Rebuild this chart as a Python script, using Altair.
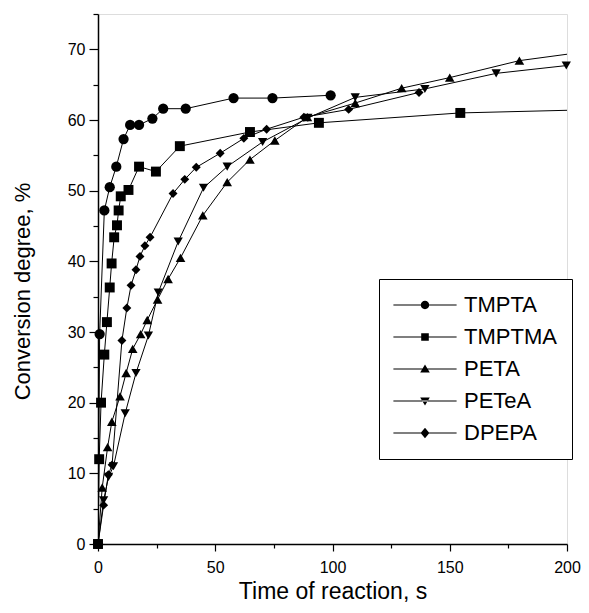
import altair as alt
import pandas as pd

series_names = ["TMPTA", "TMPTMA", "PETA", "PETeA", "DPEPA"]

tmpta_t = [0, 0.7, 2.7, 5.0, 7.8, 10.9, 13.7, 17.5, 23.2, 27.8, 37.4, 57.8, 74.4, 99.2]
tmpta_c = [0, 29.7, 47.2, 50.5, 53.4, 57.3, 59.3, 59.3, 60.2, 61.6, 61.6, 63.1, 63.1, 63.5]

tmptma_t = [0, 0.5, 1.3, 2.7, 3.8, 5.0, 5.8, 6.9, 8.1, 8.8, 9.7, 13.0, 17.5, 24.7, 34.9, 64.8, 94.2, 154.5, 240]
tmptma_c = [0, 12.0, 20.0, 26.8, 31.4, 36.3, 39.7, 43.4, 45.1, 47.2, 49.2, 50.1, 53.4, 52.7, 56.3, 58.3, 59.6, 61.0, 61.7]

peta_t = [0, 1.8, 4.1, 5.9, 9.4, 12.0, 14.8, 18.2, 21.0, 25.4, 29.9, 35.2, 44.7, 55.1, 64.8, 75.4, 89.3, 109.7, 129.5, 150.0, 179.7, 220]
peta_c = [0, 8.0, 13.7, 17.3, 20.9, 24.2, 27.6, 29.7, 31.7, 34.6, 37.5, 40.5, 46.5, 51.2, 54.4, 57.1, 60.4, 62.4, 64.5, 66.0, 68.4, 70.2]

petea_t = [0, 2.4, 4.5, 6.6, 11.6, 16.2, 21.5, 25.7, 34.2, 45.0, 55.1, 70.2, 89.5, 109.7, 139.4, 169.8, 199.7]
petea_c = [0, 6.2, 9.5, 11.0, 18.5, 24.2, 29.5, 35.6, 42.8, 50.4, 53.4, 56.9, 60.3, 63.2, 64.4, 66.6, 67.7]

dpepa_t = [0, 2.4, 4.4, 6.0, 10.2, 12.3, 14.1, 16.2, 17.9, 20.0, 22.2, 32.0, 37.0, 41.9, 52.1, 62.2, 71.9, 87.8, 106.9, 136.9]
dpepa_c = [0, 5.5, 9.8, 11.2, 28.8, 33.4, 36.6, 38.8, 40.7, 42.2, 43.4, 49.6, 51.6, 53.3, 55.3, 57.4, 58.7, 60.4, 61.5, 63.9]

x_major = [0, 50, 100, 150, 200]
x_minor = [25, 75, 125, 175]
y_major = [0, 10, 20, 30, 40, 50, 60, 70]
y_minor = [5, 15, 25, 35, 45, 55, 65, 75]

plot_shapes = ["circle", "square", "triangle-up", "triangle-down", "diamond"]
plot_sizes = [105, 80, 135, 135, 115]
LINE = "M-7.9,-0.13H7.9V0.13H-7.9Z"
legend_shapes = [
    LINE + "M1.05,0A1.05,1.05 0 1,1 -1.05,0A1.05,1.05 0 1,1 1.05,0Z",
    LINE + "M-0.95,-0.95H0.95V0.95H-0.95Z",
    LINE + "M0,-1.15L1.2,0.9H-1.2Z",
    LINE + "M0,1.15L1.2,-0.9H-1.2Z",
    LINE + "M0,-1.3L1.1,0L0,1.3L-1.1,0Z",
]

rows = []
for name, ts, cs in [("TMPTA", tmpta_t, tmpta_c), ("TMPTMA", tmptma_t, tmptma_c),
                     ("PETA", peta_t, peta_c), ("PETeA", petea_t, petea_c),
                     ("DPEPA", dpepa_t, dpepa_c)]:
    for i, (t, c) in enumerate(zip(ts, cs)):
        rows.append({"series": name, "t": t, "c": c, "i": i})
df = pd.DataFrame(rows)

leg_df = pd.DataFrame({"series": series_names, "t": [-100] * 5, "c": [-100] * 5})

FONT = "Liberation Sans"
W = 469
xscale = alt.Scale(domain=[0, 200], nice=False, zero=False)
yscale = alt.Scale(domain=[0, 75], nice=False, zero=False)

x_axis = alt.Axis(values=x_major, tickSize=7, labelPadding=8, labelFontSize=16, labelFont=FONT,
                  labelColor="black", domainColor="black", domainWidth=1.5, tickColor="black",
                  tickWidth=1.2, grid=False, orient="bottom",
                  title="Time of reaction, s", titleFont=FONT, titleFontSize=23,
                  titleFontWeight="normal", titleColor="black", titleBaseline="alphabetic",
                  titleY=54, titleX=W / 2, titleAlign="center", labelFlush=False)
y_axis = alt.Axis(values=y_major, tickSize=9, labelPadding=4, labelFontSize=16, labelFont=FONT,
                  labelColor="black", domainColor="black", domainWidth=1.5, tickColor="black",
                  tickWidth=1.2, grid=False, orient="left",
                  title="Conversion degree, %", titleFont=FONT, titleFontSize=22,
                  titleFontWeight="normal", titleColor="black", titleBaseline="alphabetic",
                  titleAngle=270, titleX=-69, titleY=277, titleAlign="center", labelFlush=False)
x_axis_minor = alt.Axis(values=x_minor, tickSize=4, labels=False, domain=False, grid=False,
                        tickColor="black", tickWidth=1.2, orient="bottom", title=None)
y_axis_minor = alt.Axis(values=y_minor, tickSize=5, labels=False, domain=False, grid=False,
                        tickColor="black", tickWidth=1.2, orient="left", title=None)

lines = alt.Chart(df).mark_line(color="black", strokeWidth=1, clip=True).encode(
    x=alt.X("t:Q", scale=xscale, axis=x_axis),
    y=alt.Y("c:Q", scale=yscale, axis=y_axis),
    detail="series:N",
    order="i:Q",
)

points = alt.Chart(df).transform_filter("datum.t <= 200").mark_point(
    filled=True, color="black", opacity=1).encode(
    x=alt.X("t:Q", scale=xscale, axis=None),
    y=alt.Y("c:Q", scale=yscale, axis=None),
    shape=alt.Shape("series:N", scale=alt.Scale(domain=series_names, range=plot_shapes), legend=None),
    size=alt.Size("series:N", scale=alt.Scale(domain=series_names, range=plot_sizes), legend=None),
)

legend_layer = alt.Chart(leg_df).mark_point(
    filled=True, color="black", opacity=1, clip=True, size=64).encode(
    x=alt.X("t:Q", scale=xscale, axis=x_axis_minor),
    y=alt.Y("c:Q", scale=yscale, axis=y_axis_minor),
    shape=alt.Shape("series:N", scale=alt.Scale(domain=series_names, range=legend_shapes),
                    legend=alt.Legend(title=None, orient="none", legendX=281, legendY=265,
                                      padding=15, strokeColor="black", fillColor="white",
                                      symbolOffset=20, labelOffset=28, rowPadding=10,
                                      symbolSize=64, symbolFillColor="black",
                                      symbolOpacity=1, labelFont=FONT, labelFontSize=22,
                                      labelColor="black", labelLimit=300)),
)

chart = alt.layer(lines, points, legend_layer).resolve_scale(
    shape="independent", size="independent"
).resolve_axis(x="independent", y="independent").properties(
    width=W, height=530,
    autosize=alt.AutoSizeParams(type="none"),
    padding={"left": 90, "top": 6, "right": 14, "bottom": 60},
).configure_view(stroke=None).configure(font=FONT)

chart.save("out.html", embed_options={"renderer": "svg", "actions": False})
